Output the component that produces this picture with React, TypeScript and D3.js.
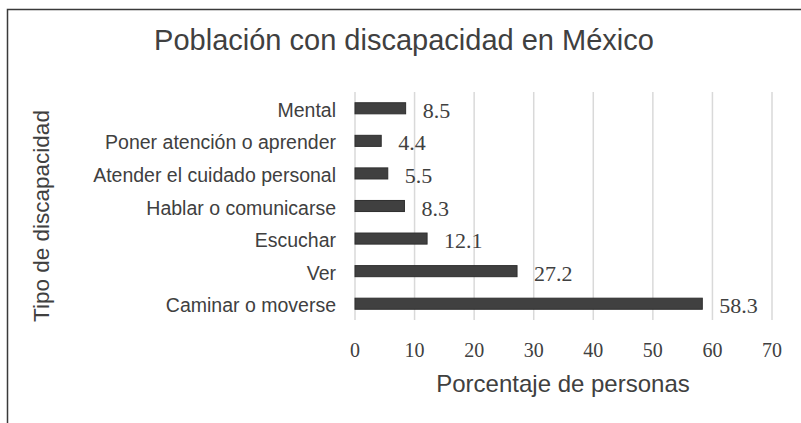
import React, { useEffect, useRef } from 'react';
import * as d3 from 'd3';

const CATEGORIES = [
  'Mental',
  'Poner atención o aprender',
  'Atender el cuidado personal',
  'Hablar o comunicarse',
  'Escuchar',
  'Ver',
  'Caminar o moverse',
];
const VALUES = [8.5, 4.4, 5.5, 8.3, 12.1, 27.2, 58.3];
const X_TICKS = [0, 10, 20, 30, 40, 50, 60, 70];

const TITLE = 'Población con discapacidad en México';
const X_TITLE = 'Porcentaje de personas';
const Y_TITLE = 'Tipo de discapacidad';

const WIDTH = 801;
const HEIGHT = 423;

const App = () => {
  const svgRef = useRef<SVGSVGElement>(null);

  useEffect(() => {
    const svg = d3.select(svgRef.current);
    svg.selectAll('*').remove();

    const sans = 'Liberation Sans, Arial, sans-serif';
    const serif = 'Liberation Serif, Times New Roman, serif';
    const ink = '#404040';

    // plot area
    const left = 355;
    const right = 772;
    const top = 92;
    const bottom = 320;

    const x = d3.scaleLinear().domain([0, 70]).range([left, right]);
    const y = d3
      .scaleBand<string>()
      .domain(CATEGORIES)
      .range([top, bottom])
      .paddingInner(0.66)
      .paddingOuter(0.33);

    // frame (only top and left edges are visible in the original crop)
    svg
      .append('path')
      .attr('d', `M7.5,${HEIGHT} V9.5 H${WIDTH}`)
      .attr('fill', 'none')
      .attr('stroke', '#3a3a3a')
      .attr('stroke-width', 1.5);

    // title
    svg
      .append('text')
      .attr('x', 404)
      .attr('y', 50)
      .attr('text-anchor', 'middle')
      .attr('font-family', sans)
      .attr('font-size', 29)
      .attr('fill', ink)
      .text(TITLE);

    // vertical gridlines
    svg
      .append('g')
      .selectAll('line')
      .data(X_TICKS)
      .enter()
      .append('line')
      .attr('x1', (d) => x(d))
      .attr('x2', (d) => x(d))
      .attr('y1', top)
      .attr('y2', bottom)
      .attr('stroke', '#d9d9d9')
      .attr('stroke-width', 1.5);

    // tick labels
    svg
      .append('g')
      .selectAll('text')
      .data(X_TICKS)
      .enter()
      .append('text')
      .attr('x', (d) => x(d))
      .attr('y', 357)
      .attr('text-anchor', 'middle')
      .attr('font-family', serif)
      .attr('font-size', 20)
      .attr('fill', ink)
      .text((d) => d);

    // bars
    const rows = CATEGORIES.map((c, i) => ({ c, v: VALUES[i] }));
    svg
      .append('g')
      .selectAll('rect')
      .data(rows)
      .enter()
      .append('rect')
      .attr('x', x(0))
      .attr('y', (d) => y(d.c)!)
      .attr('width', (d) => x(d.v) - x(0))
      .attr('height', y.bandwidth())
      .attr('fill', '#404040')
      .attr('stroke', '#2e2e2e')
      .attr('stroke-width', 1);

    // value labels
    svg
      .append('g')
      .selectAll('text')
      .data(rows)
      .enter()
      .append('text')
      .attr('x', (d) => x(d.v) + 17)
      .attr('y', (d) => y(d.c)! + y.bandwidth() / 2 + 2)
      .attr('dominant-baseline', 'central')
      .attr('font-family', serif)
      .attr('font-size', 22)
      .attr('fill', ink)
      .text((d) => d.v.toFixed(1));

    // category labels
    svg
      .append('g')
      .selectAll('text')
      .data(CATEGORIES)
      .enter()
      .append('text')
      .attr('x', 336)
      .attr('y', (d) => y(d)! + y.bandwidth() / 2 + 1.5)
      .attr('dominant-baseline', 'central')
      .attr('text-anchor', 'end')
      .attr('font-family', sans)
      .attr('font-size', 19.5)
      .attr('fill', ink)
      .text((d) => d);

    // axis titles
    svg
      .append('text')
      .attr('x', 563)
      .attr('y', 392)
      .attr('text-anchor', 'middle')
      .attr('font-family', sans)
      .attr('font-size', 24)
      .attr('fill', ink)
      .text(X_TITLE);

    svg
      .append('text')
      .attr('transform', `translate(49,216) rotate(-90)`)
      .attr('text-anchor', 'middle')
      .attr('font-family', sans)
      .attr('font-size', 22.5)
      .attr('fill', ink)
      .text(Y_TITLE);
  }, []);

  return (
    <svg
      ref={svgRef}
      width={WIDTH}
      height={HEIGHT}
      style={{ position: 'absolute', left: 0, top: 0, background: '#fff' }}
    />
  );
};

export default App;
